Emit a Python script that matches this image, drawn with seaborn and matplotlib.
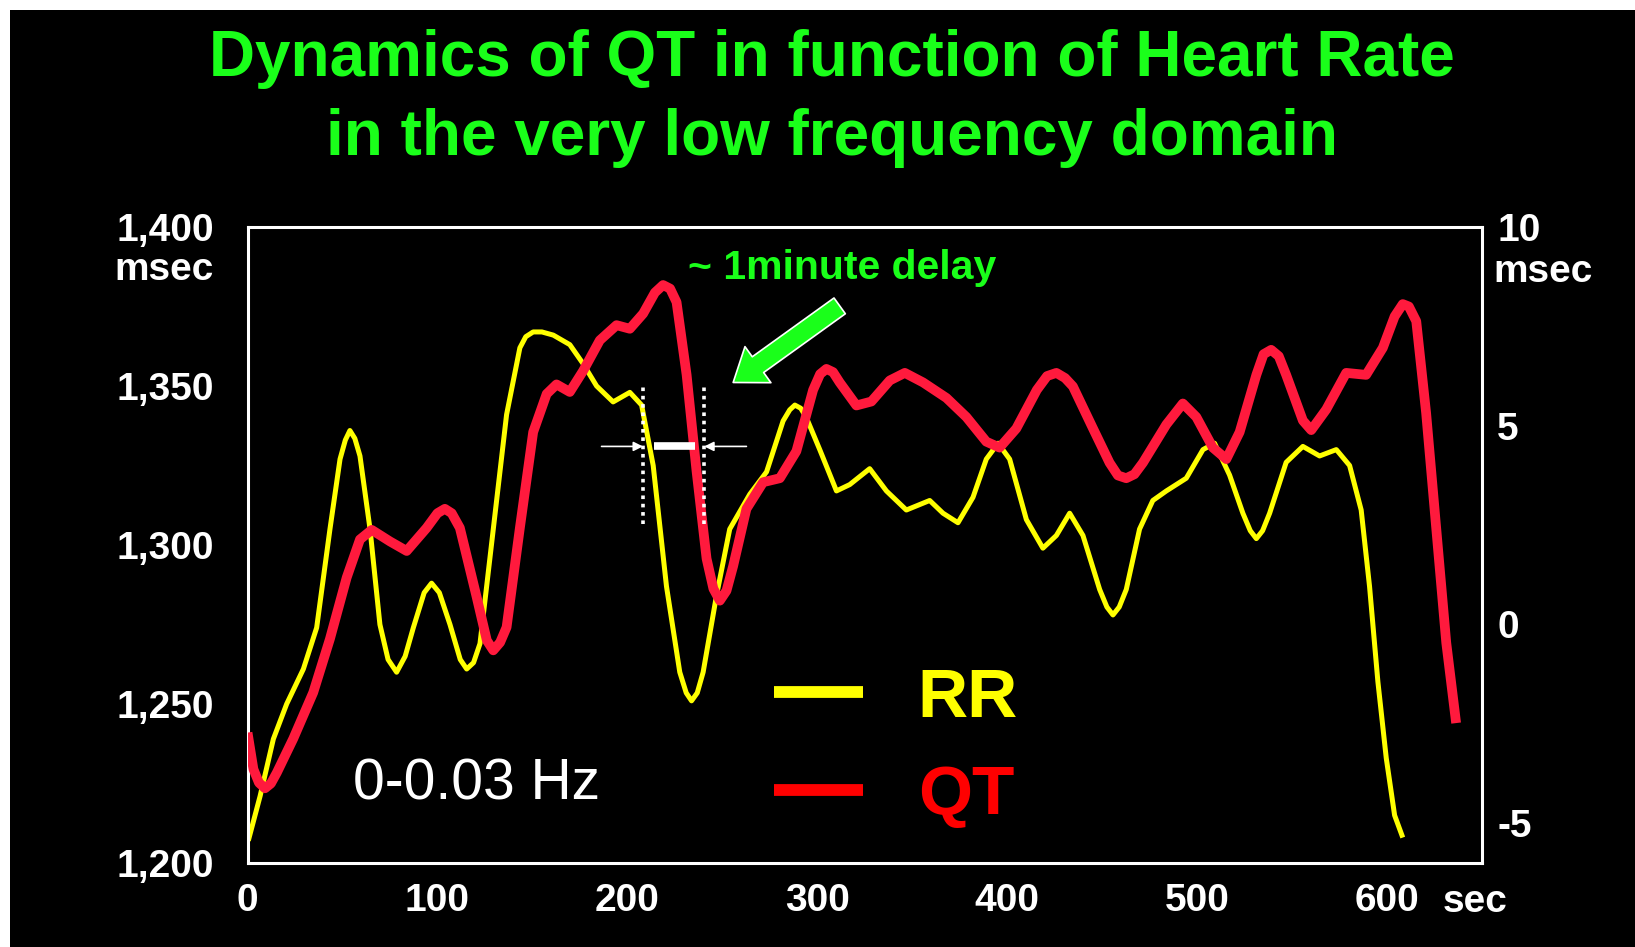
import numpy as np
import pandas as pd
import matplotlib
matplotlib.use("Agg")
import matplotlib.pyplot as plt
import seaborn as sns
from matplotlib.patches import Rectangle

sns.set_style("dark", {"axes.facecolor": "black", "figure.facecolor": "white"})
plt.rcParams["font.family"] = ["Liberation Sans", "DejaVu Sans"]

# RR (left axis, msec)
RR_T = [0.4, 6.6, 13.6, 20.6, 29.4, 36.4, 43.4, 48.7, 51.5, 53.9, 56.5, 59.2,
        64.5, 69.7, 74, 78.5, 83, 87.3, 93, 96.9, 101, 106.6, 112, 115.4, 119,
        122.4, 129.4, 136.4, 143.4, 146.5, 150.4, 155, 161, 169.7, 176.7, 183.8,
        192.5, 201.3, 207.5, 213.6, 220.6, 227.6, 231, 233.8, 236.8, 239.9,
        246.9, 253.9, 264.5, 273.3, 282, 285.5, 288.2, 291.3, 294.3, 301.3,
        310.1, 317.1, 327.6, 336.4, 346.9, 359.2, 366.2, 374.1, 382, 389, 395.2,
        401.3, 410.1, 418.8, 425.9, 432.9, 439.9, 448.7, 452.5, 455.7, 459,
        462.7, 469.7, 476.7, 483.8, 494.3, 503.1, 509.2, 517.1, 524.1, 528,
        531.2, 534.5, 538.2, 546.9, 555.7, 564.5, 573.3, 580.3, 586.4, 590.8,
        595.2, 599.6, 604, 608.3]
RR_MS = [1207, 1221, 1239, 1250, 1261, 1274, 1305, 1327, 1333, 1336, 1333.5, 1328,
         1305, 1275, 1264, 1260, 1265, 1274, 1285, 1288, 1285, 1275, 1264, 1261, 1263,
         1269, 1305, 1341, 1362, 1365.5, 1367, 1367, 1366, 1363, 1357, 1350,
         1345, 1348, 1344, 1325, 1287, 1260, 1253.5, 1251, 1253.5, 1260,
         1284, 1305, 1316, 1323, 1339, 1342.5, 1344, 1343, 1340, 1330,
         1317, 1319, 1324, 1317, 1311, 1314, 1310, 1307, 1315, 1327, 1332,
         1327, 1308, 1299, 1303, 1310, 1303, 1286, 1280.5, 1278, 1280.5,
         1286, 1305, 1314, 1317, 1321, 1330, 1332, 1322, 1310, 1304.5,
         1302, 1304.5, 1310, 1326, 1331, 1328, 1330, 1325, 1311, 1287,
         1257, 1233, 1215, 1208]

# QT (right axis, msec)
QT_T = [0, 3.1, 6, 9.2, 12.3, 15.4, 24.1, 34.6, 43.4, 52.2, 59.2, 65.4, 75, 83.8,
        94.3, 100, 103.9, 107.5, 111.8, 120.6, 126, 129.4, 133, 136.4, 143.4,
        150.4, 157.5, 162.7, 169.7, 176.7, 185.5, 194.3, 201.3, 208.3, 214.5,
        218.8, 222.5, 225.9, 231.2, 236.4, 241.7, 245.3, 248.7, 252.2, 255.7,
        262.7, 271.5, 280.3, 289, 297.8, 301.5, 304.8, 308.3, 311.8, 320.6,
        328.5, 338.2, 346.1, 355.7, 368, 378.5, 389, 396, 404.8, 415.6, 421,
        425.9, 430.5, 434.6, 445.2, 453.9, 458.3, 462.7, 467, 471.5, 483.8,
        492.5, 499.6, 508.3, 515.4, 522.4, 531.2, 535, 539, 543, 546.9, 555.7,
        560.1, 568, 578.5, 589, 597.8, 604, 608.3, 611.5, 615.4, 620.6, 625.9,
        631.2, 636.4]
QT_MS = [-2.72, -3.64, -3.98, -4.12, -4.0, -3.73, -2.87, -1.71, -0.36, 1.18, 2.14,
         2.38, 2.09, 1.85, 2.43, 2.8, 2.91, 2.8, 2.43, 0.70, -0.4, -0.65, -0.45,
         -0.07, 2.43, 4.84, 5.80, 6.04, 5.85, 6.38, 7.15, 7.53, 7.44, 7.82, 8.35,
         8.54, 8.45, 8.11, 6.28, 3.87, 1.66, 0.9, 0.60, 0.85, 1.47,
         2.91, 3.58, 3.68, 4.36, 5.90, 6.3, 6.43, 6.35, 6.09, 5.51,
         5.61, 6.14, 6.33, 6.09, 5.70, 5.22, 4.60, 4.45, 4.93, 5.90, 6.25,
         6.33, 6.2, 5.99, 4.93, 4.07, 3.75, 3.68, 3.78, 4.07, 5.03,
         5.56, 5.22, 4.45, 4.16, 4.84, 6.28, 6.8, 6.91, 6.75, 6.28, 5.13,
         4.89, 5.41, 6.33, 6.28, 6.96, 7.75, 8.06, 8.0, 7.63, 5.32, 2.43,
         -0.46, -2.48]

X_TICKS = [0, 100, 200, 300, 400, 500, 600]
RR_TICKS = [1200, 1250, 1300, 1350, 1400]
RR_TICK_LABELS = ["1,200", "1,250", "1,300", "1,350", "1,400"]
QT_TICKS = [-5, 0, 5, 10]
QT_TICK_LABELS = ["-5", "0", "5", "10"]

YELLOW = "#ffff00"
RED = "#ff1a3d"
PURE_RED = "#ff0000"
GREEN = "#1aff1a"

rr = pd.DataFrame({"t": RR_T, "ms": RR_MS})
qt = pd.DataFrame({"t": QT_T, "ms": QT_MS})

fig = plt.figure(figsize=(16.35, 9.47), dpi=100)
fig.patch.set_facecolor("white")
fig.add_artist(Rectangle((10 / 1635, 0), 1, 1 - 10 / 947, transform=fig.transFigure,
                         facecolor="black", edgecolor="none", zorder=-10))

ax = fig.add_axes([0.1514, 0.0887, 0.755, 0.6716])
ax.set_facecolor("black")
sns.lineplot(data=rr, x="t", y="ms", ax=ax, color=YELLOW, lw=3.6, estimator=None)
h_rr = ax.lines[0]
h_rr.set_solid_capstyle("butt")
h_rr.set_solid_joinstyle("round")

ax2 = ax.twinx()
sns.lineplot(data=qt, x="t", y="ms", ax=ax2, color=RED, lw=7, estimator=None)
h_qt = ax2.lines[0]
h_qt.set_solid_capstyle("butt")
h_qt.set_solid_joinstyle("round")

ax.set_xlim(0, 650)
ax.set_ylim(1200, 1400)
ax2.set_ylim(-6, 10)
for a in (ax, ax2):
    a.set_xlabel("")
    a.set_ylabel("")
    a.grid(False)

ax.set_xticks(X_TICKS)
ax.set_xticklabels([str(v) for v in X_TICKS], fontsize=28, fontweight="bold", color="white")
ax.set_yticks(RR_TICKS)
ax.set_yticklabels(RR_TICK_LABELS, fontsize=28, fontweight="bold", color="white")
ax2.set_yticks(QT_TICKS)
ax2.set_yticklabels(QT_TICK_LABELS, fontsize=28, fontweight="bold", color="white")
ax.tick_params(axis="x", length=0, pad=14.5)
ax.tick_params(axis="y", length=0, pad=24)
ax2.tick_params(axis="y", length=0, pad=11)

for s in ax.spines.values():
    s.set_visible(True)
    s.set_color("white")
    s.set_linewidth(2.2)
for s in ax2.spines.values():
    s.set_visible(False)

# unit labels
ax.text(-0.0271, 0.933, "msec", transform=ax.transAxes, ha="right", va="center",
        fontsize=28, fontweight="bold", color="white")
ax.text(1.0089, 0.929, "msec", transform=ax.transAxes, ha="left", va="center",
        fontsize=28, fontweight="bold", color="white")
ax.text(0.9943, -0.061, "sec", transform=ax.transAxes, ha="center", va="center",
        fontsize=28, fontweight="bold", color="white")

# title
fig.text(0.5087, 1 - 59 / 947, "Dynamics of QT in function of Heart Rate",
         ha="center", va="center", fontsize=46, fontweight="bold", color=GREEN)
fig.text(0.5087, 1 - 138 / 947, "in the very low frequency domain",
         ha="center", va="center", fontsize=46, fontweight="bold", color=GREEN)

# delay annotation (left-axis data coords)
DELAY_START, DELAY_END = 208.2, 240.5
DELAY_Y = 1331
DOT_LO, DOT_HI = 1306.5, 1350
for xd in (DELAY_START, DELAY_END):
    ax2.plot([xd, xd], [DOT_LO, DOT_HI], transform=ax.transData, color="white",
             lw=2.6, ls=(0, (1, 1.3)), zorder=5)
ax2.plot([213.9, 235.5], [DELAY_Y, DELAY_Y], transform=ax.transData, color="white",
         lw=5.5, solid_capstyle="butt", zorder=5)
ax2.annotate("", xy=(DELAY_START, DELAY_Y), xytext=(186.4, DELAY_Y),
             xycoords=ax.transData, textcoords=ax.transData,
             arrowprops=dict(arrowstyle="-|>", color="white", lw=1.2,
                             mutation_scale=14, shrinkA=0, shrinkB=0))
ax2.annotate("", xy=(DELAY_END, DELAY_Y), xytext=(262.7, DELAY_Y),
             xycoords=ax.transData, textcoords=ax.transData,
             arrowprops=dict(arrowstyle="-|>", color="white", lw=1.2,
                             mutation_scale=14, shrinkA=0, shrinkB=0))
ax2.annotate("", xy=(255.7, 1351.1), xytext=(311.8, 1375.2),
             xycoords=ax.transData, textcoords=ax.transData,
             arrowprops=dict(arrowstyle="simple,head_length=1.1,head_width=1.6,tail_width=0.7",
                             mutation_scale=20, fc=GREEN, ec="white", lw=1.2,
                             shrinkA=0, shrinkB=0))
ax2.text(312.9, 1387.0, "~ 1minute delay", transform=ax.transData, ha="center",
         va="center", fontsize=29.5, fontweight="bold", color=GREEN)
ax2.text(120.5, 1224.6, "0-0.03 Hz", transform=ax.transData, ha="center",
         va="center", fontsize=41, color="white")

leg = ax2.legend(handles=[h_rr, h_qt], labels=["RR", "QT"], loc="center left",
                 bbox_to_anchor=(0.4265, 0.1821), frameon=False,
                 prop={"weight": "bold", "size": 50}, handlelength=1.28,
                 handletextpad=0.79, labelspacing=0.48, borderpad=0, borderaxespad=0)
for line, col in zip(leg.get_lines(), [YELLOW, PURE_RED]):
    line.set_color(col)
    line.set_linewidth(8.5)
for txt, col in zip(leg.get_texts(), [YELLOW, PURE_RED]):
    txt.set_color(col)

fig.savefig("out.png", dpi=100, facecolor=fig.get_facecolor())
